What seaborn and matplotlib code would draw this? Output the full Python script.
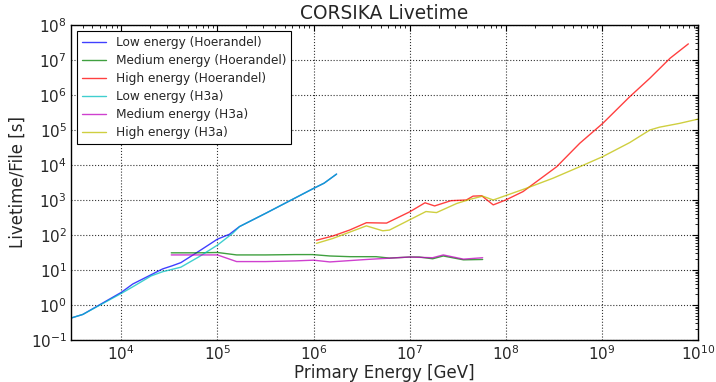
import numpy as np
import pandas as pd
import matplotlib
matplotlib.use("Agg")
import matplotlib.pyplot as plt
import seaborn as sns
from matplotlib.ticker import LogLocator, NullFormatter

# log10(energy / GeV) and log10(livetime / s) for each simulation set
low_hoer_logE = [3.47, 3.60, 4.00, 4.12, 4.43, 4.53, 4.62, 4.81, 5.00, 5.125, 5.23, 5.51, 6.00, 6.11, 6.24]
low_hoer_logL = [-0.38, -0.27, 0.36, 0.60, 1.03, 1.12, 1.21, 1.54, 1.88, 2.02, 2.24, 2.63, 3.33, 3.48, 3.74]

low_h3a_logE = [3.47, 3.60, 4.00, 4.12, 4.31, 4.43, 4.62, 4.81, 5.00, 5.16, 5.23, 5.51, 6.00, 6.11, 6.24]
low_h3a_logL = [-0.38, -0.27, 0.33, 0.52, 0.83, 0.95, 1.08, 1.38, 1.71, 2.05, 2.24, 2.63, 3.33, 3.48, 3.74]

med_hoer_logE = [4.52, 4.80, 5.00, 5.20, 5.50, 5.81, 5.99, 6.17, 6.38, 6.65, 6.79, 7.00, 7.10, 7.24, 7.35, 7.56, 7.76]
med_hoer_logL = [1.49, 1.49, 1.50, 1.43, 1.43, 1.44, 1.44, 1.40, 1.38, 1.38, 1.34, 1.37, 1.37, 1.32, 1.40, 1.29, 1.30]

med_h3a_logE = [4.52, 4.80, 5.00, 5.20, 5.50, 5.81, 6.00, 6.17, 6.55, 7.00, 7.24, 7.35, 7.56, 7.76]
med_h3a_logL = [1.43, 1.43, 1.43, 1.24, 1.24, 1.26, 1.28, 1.23, 1.30, 1.37, 1.35, 1.43, 1.31, 1.35]

high_hoer_logE = [6.03, 6.20, 6.375, 6.55, 6.76, 7.00, 7.16, 7.26, 7.43, 7.59, 7.66, 7.75, 7.87, 8.00, 8.18,
                  8.53, 8.77, 9.01, 9.29, 9.50, 9.71, 9.90]
high_hoer_logL = [1.85, 1.97, 2.14, 2.35, 2.34, 2.66, 2.92, 2.83, 2.98, 3.00, 3.11, 3.12, 2.86, 3.00, 3.24,
                  3.95, 4.62, 5.19, 5.95, 6.48, 7.05, 7.46]

high_h3a_logE = [6.03, 6.20, 6.55, 6.72, 6.79, 7.17, 7.28, 7.49, 7.63, 7.76, 7.87, 8.21, 8.49, 8.77, 9.01,
                 9.29, 9.50, 9.60, 9.81, 10.0]
high_h3a_logL = [1.76, 1.90, 2.26, 2.12, 2.14, 2.67, 2.64, 2.90, 3.02, 3.11, 3.00, 3.33, 3.62, 3.95, 4.24,
                 4.64, 5.00, 5.08, 5.19, 5.31]

# major tick decades shown on each axis
x_decades = [4, 5, 6, 7, 8, 9, 10]
y_decades = [-1, 0, 1, 2, 3, 4, 5, 6, 7, 8]

series = [
    ("Low energy (Hoerandel)", low_hoer_logE, low_hoer_logL, (0.0, 0.0, 1.0)),
    ("Medium energy (Hoerandel)", med_hoer_logE, med_hoer_logL, (0.0, 0.5, 0.0)),
    ("High energy (Hoerandel)", high_hoer_logE, high_hoer_logL, (1.0, 0.0, 0.0)),
    ("Low energy (H3a)", low_h3a_logE, low_h3a_logL, (0.0, 0.75, 0.75)),
    ("Medium energy (H3a)", med_h3a_logE, med_h3a_logL, (0.75, 0.0, 0.75)),
    ("High energy (H3a)", high_h3a_logE, high_h3a_logL, (0.75, 0.75, 0.0)),
]

sns.set_style("white")
plt.rcParams["font.family"] = ["DejaVu Sans"]
plt.rcParams["xtick.direction"] = "in"
plt.rcParams["ytick.direction"] = "in"

fig = plt.figure(figsize=(7.16, 3.82), dpi=100)
ax = fig.add_axes([0.0992, 0.110, 0.8756, 0.8246])

for name, logE, logL, color in series:
    df = pd.DataFrame({"energy": np.power(10.0, logE), "livetime": np.power(10.0, logL)})
    sns.lineplot(data=df, x="energy", y="livetime", ax=ax, color=color, lw=1.0,
                 label=name, sort=False, estimator=None, alpha=0.75)

ax.set_xscale("log")
ax.set_yscale("log")
ax.set_xticks([10.0 ** d for d in x_decades])
ax.set_yticks([10.0 ** d for d in y_decades])
ax.xaxis.set_minor_locator(LogLocator(base=10, subs=np.arange(2, 10), numticks=20))
ax.yaxis.set_minor_locator(LogLocator(base=10, subs=np.arange(2, 10), numticks=20))
ax.xaxis.set_minor_formatter(NullFormatter())
ax.yaxis.set_minor_formatter(NullFormatter())
ax.set_xlim(3e3, 1e10)
ax.set_ylim(1e-1, 1e8)

ax.grid(True, which="major", color="black", linestyle=":", linewidth=0.8, alpha=0.8)
ax.tick_params(which="both", top=True, right=True, direction="in", color="black")
ax.tick_params(which="major", length=4, width=0.8, labelsize=11, pad=3)
ax.tick_params(which="minor", length=2, width=0.6)
for s in ax.spines.values():
    s.set_color("black")
    s.set_linewidth(1.0)

ax.set_title("CORSIKA Livetime", fontsize=13.4, pad=4)
ax.set_xlabel("Primary Energy [GeV]", fontsize=12, labelpad=1)
ax.set_ylabel("Livetime/File [s]", fontsize=12, labelpad=3)

leg = ax.legend(loc="upper left", fontsize=8.7, frameon=True, fancybox=False,
                borderaxespad=0.5, handlelength=2.0, labelspacing=0.42,
                borderpad=0.4, handletextpad=0.8)
leg.get_frame().set_edgecolor("black")
leg.get_frame().set_linewidth(0.8)
leg.get_frame().set_alpha(1.0)

fig.savefig("out.png", dpi=100)
